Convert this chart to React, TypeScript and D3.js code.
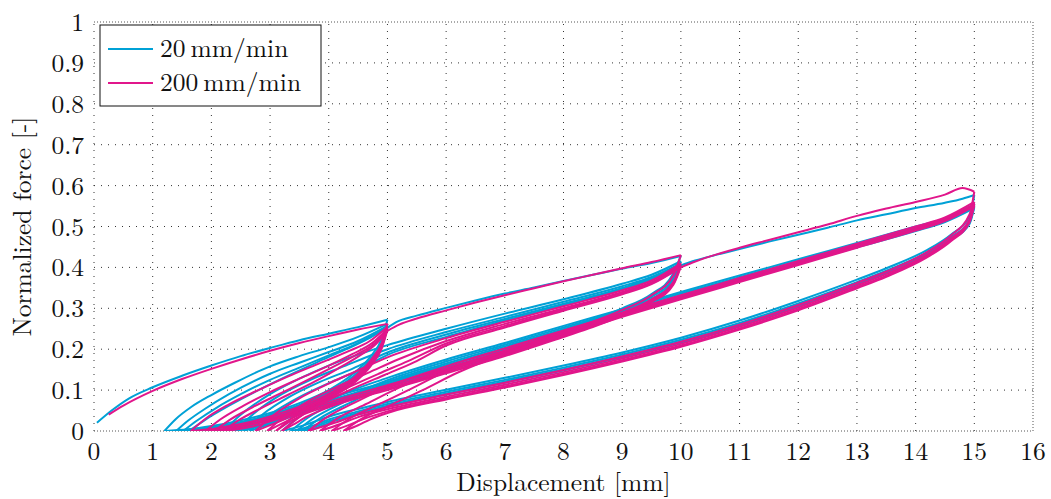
import * as d3 from "d3";

type Pt = [number, number];

const xTicks = [0, 1, 2, 3, 4, 5, 6, 7, 8, 9, 10, 11, 12, 13, 14, 15, 16];
const yTicks = [0, 0.1, 0.2, 0.3, 0.4, 0.5, 0.6, 0.7, 0.8, 0.9, 1];
const seriesNames = ["20\u2009mm/min", "200\u2009mm/min"];
const seriesColors = ["#00a1d6", "#e1168b"];

// ---- 20 mm/min ----
const blueLoad5: Pt[] = [[0.05, 0.02], [0.3, 0.05], [0.6, 0.08], [1, 0.107], [1.5, 0.135], [2, 0.16], [2.5, 0.183], [3, 0.203], [3.5, 0.222], [4, 0.238], [4.5, 0.254], [5, 0.272]];
const blueUnload5: Pt[][] = [
  [[5, 0.272], [4.9, 0.225], [4.7, 0.18], [4.4, 0.138], [4.0, 0.1], [3.5, 0.068], [3.0, 0.044], [2.5, 0.026], [2.0, 0.012], [1.6, 0.004], [1.2, 0]],
  [[5, 0.262], [4.9, 0.216], [4.7, 0.173], [4.4, 0.132], [4.0, 0.095], [3.5, 0.064], [3.0, 0.04], [2.5, 0.022], [2.0, 0.009], [1.4, 0]],
  [[5, 0.257], [4.9, 0.211], [4.7, 0.168], [4.4, 0.128], [4.0, 0.092], [3.5, 0.06], [3.0, 0.037], [2.5, 0.019], [2.0, 0.007], [1.52, 0]],
  [[5, 0.254], [4.9, 0.208], [4.7, 0.165], [4.4, 0.124], [4.0, 0.088], [3.5, 0.057], [3.0, 0.034], [2.5, 0.016], [2.0, 0.005], [1.62, 0]],
];
const blueReload5: Pt[][] = [
  [[1.2, 0], [1.4, 0.03], [1.65, 0.058], [2, 0.088], [2.4, 0.118], [3, 0.158], [3.5, 0.183], [4, 0.205], [4.5, 0.23], [5, 0.262]],
  [[1.4, 0], [1.6, 0.025], [1.9, 0.055], [2.3, 0.09], [3, 0.14], [3.5, 0.167], [4, 0.193], [4.5, 0.22], [5, 0.257]],
  [[1.52, 0], [1.75, 0.025], [2.1, 0.058], [2.5, 0.09], [3, 0.125], [3.5, 0.155], [4, 0.185], [4.5, 0.215], [5, 0.254]],
  [[1.62, 0], [1.9, 0.028], [2.3, 0.062], [2.8, 0.1], [3.3, 0.135], [3.8, 0.168], [4.3, 0.2], [4.7, 0.228], [5, 0.252]],
];
const blueLoad10: Pt[] = [[5, 0.252], [5.15, 0.266], [5.5, 0.282], [6, 0.301], [6.5, 0.319], [7, 0.336], [7.5, 0.351], [8, 0.367], [8.5, 0.382], [9, 0.397], [9.5, 0.411], [10, 0.428]];
const blueUnload10: Pt[][] = [
  [[10, 0.428], [9.85, 0.38], [9.5, 0.335], [9, 0.3], [8.5, 0.272], [8, 0.248], [7, 0.2], [6, 0.16], [5, 0.12], [4, 0.08], [3.5, 0.055], [3, 0.03], [2.6, 0.01], [2.2, 0]],
  [[10, 0.415], [9.85, 0.37], [9.5, 0.328], [9, 0.295], [8.5, 0.267], [8, 0.243], [7, 0.196], [6, 0.155], [5, 0.115], [4, 0.074], [3.5, 0.05], [3, 0.025], [2.7, 0.008], [2.4, 0]],
  [[10, 0.41], [9.85, 0.365], [9.5, 0.323], [9, 0.29], [8.5, 0.262], [8, 0.239], [7, 0.192], [6, 0.151], [5, 0.11], [4, 0.069], [3.5, 0.045], [3, 0.02], [2.55, 0]],
  [[10, 0.407], [9.85, 0.362], [9.5, 0.32], [9, 0.287], [8.5, 0.259], [8, 0.236], [7, 0.189], [6, 0.148], [5, 0.107], [4, 0.066], [3.5, 0.042], [3, 0.017], [2.65, 0]],
];
const blueReload10: Pt[][] = [
  [[2.2, 0], [2.5, 0.04], [3, 0.09], [3.5, 0.128], [4, 0.16], [5, 0.21], [6, 0.25], [7, 0.287], [8, 0.322], [9, 0.36], [9.5, 0.382], [10, 0.415]],
  [[2.4, 0], [2.7, 0.04], [3.2, 0.09], [3.7, 0.126], [4.2, 0.155], [5, 0.2], [6, 0.242], [7, 0.279], [8, 0.316], [9, 0.354], [9.5, 0.377], [10, 0.41]],
  [[2.55, 0], [2.85, 0.038], [3.35, 0.085], [3.85, 0.12], [4.4, 0.152], [5, 0.192], [6, 0.236], [7, 0.274], [8, 0.311], [9, 0.35], [9.5, 0.374], [10, 0.407]],
  [[2.65, 0], [3, 0.04], [3.5, 0.083], [4, 0.117], [4.5, 0.148], [5, 0.186], [6, 0.23], [7, 0.27], [8, 0.308], [9, 0.347], [9.5, 0.371], [10, 0.405]],
];
const blueLoad15: Pt[] = [[10, 0.405], [10.2, 0.415], [10.5, 0.427], [11, 0.445], [11.5, 0.463], [12, 0.48], [12.5, 0.497], [13, 0.515], [13.5, 0.53], [14, 0.545], [14.5, 0.558], [14.8, 0.568], [15, 0.577]];
const blueUnload15: Pt[][] = [
  [[15, 0.577], [14.92, 0.525], [14.6, 0.48], [14.2, 0.443], [13.5, 0.398], [13, 0.37], [12, 0.318], [11, 0.27], [10, 0.228], [9, 0.192], [8, 0.16], [7, 0.13], [6, 0.101], [5, 0.071], [4.5, 0.054], [4, 0.035], [3.6, 0.015], [3.2, 0]],
  [[15, 0.555], [14.92, 0.515], [14.6, 0.474], [14.2, 0.437], [13.5, 0.392], [13, 0.364], [12, 0.312], [11, 0.264], [10, 0.223], [9, 0.187], [8, 0.155], [7, 0.125], [6, 0.096], [5, 0.066], [4.5, 0.048], [4, 0.028], [3.7, 0.012], [3.35, 0]],
  [[15, 0.55], [14.92, 0.51], [14.6, 0.47], [14.2, 0.433], [13.5, 0.388], [13, 0.36], [12, 0.308], [11, 0.26], [10, 0.219], [9, 0.183], [8, 0.151], [7, 0.121], [6, 0.092], [5, 0.062], [4.5, 0.044], [4, 0.024], [3.75, 0.01], [3.45, 0]],
  [[15, 0.547], [14.92, 0.507], [14.6, 0.467], [14.2, 0.43], [13.5, 0.385], [13, 0.357], [12, 0.305], [11, 0.257], [10, 0.216], [9, 0.18], [8, 0.148], [7, 0.118], [6, 0.089], [5, 0.059], [4.5, 0.04], [4, 0.02], [3.8, 0.008], [3.55, 0]],
];
const blueReload15: Pt[][] = [
  [[3.2, 0], [3.5, 0.035], [4, 0.075], [5, 0.13], [6, 0.175], [7, 0.215], [8, 0.257], [9, 0.298], [10, 0.34], [11, 0.38], [12, 0.42], [13, 0.46], [14, 0.5], [14.5, 0.52], [15, 0.555]],
  [[3.35, 0], [3.65, 0.033], [4.15, 0.072], [5, 0.124], [6, 0.17], [7, 0.211], [8, 0.253], [9, 0.295], [10, 0.336], [11, 0.376], [12, 0.416], [13, 0.456], [14, 0.496], [14.5, 0.517], [15, 0.55]],
  [[3.45, 0], [3.75, 0.032], [4.25, 0.07], [5, 0.119], [6, 0.165], [7, 0.207], [8, 0.249], [9, 0.291], [10, 0.332], [11, 0.372], [12, 0.412], [13, 0.452], [14, 0.492], [14.5, 0.514], [15, 0.547]],
  [[3.55, 0], [3.85, 0.031], [4.35, 0.068], [5, 0.114], [6, 0.161], [7, 0.203], [8, 0.245], [9, 0.287], [10, 0.329], [11, 0.369], [12, 0.409], [13, 0.449], [14, 0.489], [14.5, 0.511], [15, 0.545]],
];

// ---- 200 mm/min ----
const pinkLoad5: Pt[] = [[0.25, 0.04], [0.5, 0.062], [1, 0.098], [1.5, 0.127], [2, 0.152], [2.5, 0.175], [3, 0.196], [3.5, 0.215], [4, 0.232], [4.5, 0.248], [5, 0.262]];
const pinkUnload5: Pt[][] = [
  [[5, 0.262], [4.9, 0.215], [4.72, 0.174], [4.45, 0.133], [4.05, 0.095], [3.6, 0.065], [3.1, 0.04], [2.6, 0.02], [2.1, 0.007], [1.65, 0]],
  [[5, 0.255], [4.9, 0.208], [4.72, 0.168], [4.45, 0.128], [4.05, 0.09], [3.6, 0.06], [3.1, 0.035], [2.6, 0.016], [2.2, 0.005], [1.9, 0]],
  [[5, 0.25], [4.9, 0.204], [4.72, 0.163], [4.45, 0.124], [4.05, 0.086], [3.6, 0.056], [3.1, 0.031], [2.6, 0.013], [2.3, 0.004], [2.05, 0]],
  [[5, 0.247], [4.9, 0.201], [4.72, 0.16], [4.45, 0.12], [4.05, 0.083], [3.6, 0.053], [3.1, 0.028], [2.7, 0.011], [2.4, 0.003], [2.2, 0]],
];
const pinkReload5: Pt[][] = [
  [[1.65, 0], [1.9, 0.03], [2.3, 0.065], [2.8, 0.1], [3.3, 0.133], [3.8, 0.163], [4.3, 0.193], [4.7, 0.22], [5, 0.255]],
  [[1.9, 0], [2.15, 0.028], [2.55, 0.062], [3.0, 0.095], [3.5, 0.128], [4.0, 0.16], [4.4, 0.188], [4.75, 0.216], [5, 0.25]],
  [[2.05, 0], [2.3, 0.026], [2.7, 0.058], [3.15, 0.09], [3.6, 0.122], [4.05, 0.155], [4.45, 0.185], [4.78, 0.214], [5, 0.247]],
  [[2.2, 0], [2.45, 0.025], [2.85, 0.056], [3.3, 0.088], [3.75, 0.12], [4.15, 0.152], [4.5, 0.182], [4.8, 0.212], [5, 0.245]],
];
const pinkLoad10: Pt[] = [[5, 0.245], [5.2, 0.26], [5.5, 0.275], [6, 0.295], [6.5, 0.314], [7, 0.332], [7.5, 0.349], [8, 0.366], [8.5, 0.382], [9, 0.398], [9.5, 0.413], [10, 0.43]];
const pinkUnload10: Pt[][] = [
  [[10, 0.43], [9.87, 0.38], [9.5, 0.332], [9, 0.296], [8.5, 0.267], [8, 0.242], [7, 0.195], [6, 0.153], [5, 0.112], [4, 0.07], [3.5, 0.045], [3.1, 0.02], [2.75, 0]],
  [[10, 0.41], [9.87, 0.364], [9.5, 0.322], [9, 0.289], [8.5, 0.261], [8, 0.237], [7, 0.19], [6, 0.148], [5, 0.107], [4, 0.065], [3.5, 0.04], [3.2, 0.018], [2.95, 0]],
  [[10, 0.405], [9.87, 0.36], [9.5, 0.318], [9, 0.285], [8.5, 0.257], [8, 0.233], [7, 0.186], [6, 0.144], [5, 0.103], [4, 0.061], [3.5, 0.036], [3.3, 0.02], [3.1, 0]],
  [[10, 0.402], [9.87, 0.357], [9.5, 0.315], [9, 0.282], [8.5, 0.254], [8, 0.23], [7, 0.183], [6, 0.141], [5, 0.1], [4, 0.058], [3.6, 0.033], [3.4, 0.016], [3.2, 0]],
];
const pinkReload10: Pt[][] = [
  [[2.75, 0], [3.05, 0.038], [3.5, 0.08], [4, 0.116], [4.5, 0.148], [5, 0.18], [6, 0.227], [7, 0.267], [8, 0.305], [9, 0.344], [9.5, 0.368], [10, 0.41]],
  [[2.95, 0], [3.25, 0.036], [3.7, 0.077], [4.2, 0.112], [4.7, 0.144], [5.2, 0.176], [6, 0.22], [7, 0.262], [8, 0.3], [9, 0.34], [9.5, 0.364], [10, 0.405]],
  [[3.1, 0], [3.4, 0.035], [3.85, 0.074], [4.35, 0.108], [4.85, 0.14], [5.35, 0.171], [6, 0.214], [7, 0.257], [8, 0.297], [9, 0.337], [9.5, 0.361], [10, 0.402]],
  [[3.2, 0], [3.5, 0.034], [3.95, 0.072], [4.45, 0.106], [4.95, 0.137], [5.45, 0.168], [6, 0.209], [7, 0.253], [8, 0.294], [9, 0.334], [9.5, 0.359], [10, 0.4]],
];
const pinkLoad15: Pt[] = [[10, 0.4], [10.2, 0.412], [10.5, 0.427], [11, 0.448], [11.5, 0.467], [12, 0.486], [12.5, 0.505], [13, 0.526], [13.5, 0.544], [14, 0.56], [14.5, 0.578], [14.8, 0.594], [15, 0.585]];
const pinkUnload15: Pt[][] = [
  [[15, 0.585], [14.92, 0.53], [14.6, 0.478], [14.2, 0.438], [13.5, 0.39], [13, 0.362], [12, 0.308], [11, 0.26], [10, 0.218], [9, 0.182], [8, 0.149], [7, 0.118], [6, 0.089], [5, 0.058], [4.5, 0.04], [4.1, 0.02], [3.65, 0]],
  [[15, 0.56], [14.92, 0.518], [14.6, 0.471], [14.2, 0.432], [13.5, 0.384], [13, 0.356], [12, 0.302], [11, 0.255], [10, 0.213], [9, 0.177], [8, 0.144], [7, 0.113], [6, 0.084], [5, 0.053], [4.5, 0.034], [4.2, 0.017], [3.85, 0]],
  [[15, 0.555], [14.92, 0.514], [14.6, 0.467], [14.2, 0.428], [13.5, 0.38], [13, 0.352], [12, 0.298], [11, 0.251], [10, 0.209], [9, 0.173], [8, 0.14], [7, 0.109], [6, 0.08], [5, 0.048], [4.6, 0.03], [4.35, 0.015], [4.05, 0]],
  [[15, 0.552], [14.92, 0.511], [14.6, 0.464], [14.2, 0.425], [13.5, 0.377], [13, 0.349], [12, 0.295], [11, 0.248], [10, 0.206], [9, 0.17], [8, 0.137], [7, 0.106], [6, 0.077], [5, 0.044], [4.7, 0.028], [4.5, 0.014], [4.25, 0]],
];
const pinkReload15: Pt[][] = [
  [[3.65, 0], [3.95, 0.032], [4.45, 0.07], [5, 0.108], [6, 0.158], [7, 0.202], [8, 0.246], [9, 0.289], [10, 0.332], [11, 0.374], [12, 0.416], [13, 0.458], [14, 0.5], [14.5, 0.522], [15, 0.56]],
  [[3.85, 0], [4.15, 0.031], [4.65, 0.067], [5.2, 0.106], [6, 0.152], [7, 0.197], [8, 0.242], [9, 0.285], [10, 0.328], [11, 0.37], [12, 0.412], [13, 0.454], [14, 0.496], [14.5, 0.519], [15, 0.555]],
  [[4.05, 0], [4.35, 0.03], [4.85, 0.065], [5.4, 0.103], [6, 0.146], [7, 0.193], [8, 0.238], [9, 0.282], [10, 0.325], [11, 0.367], [12, 0.409], [13, 0.451], [14, 0.493], [14.5, 0.516], [15, 0.552]],
  [[4.25, 0], [4.55, 0.029], [5.05, 0.063], [5.6, 0.1], [6.2, 0.143], [7, 0.189], [8, 0.234], [9, 0.279], [10, 0.322], [11, 0.364], [12, 0.406], [13, 0.448], [14, 0.49], [14.5, 0.513], [15, 0.55]],
];

// load -> (unload, reload) x N for each amplitude, in test order
const seriesBranches = (
  loads: Pt[][],
  unloads: Pt[][][],
  reloads: Pt[][][]
): Pt[][] => {
  const out: Pt[][] = [];
  loads.forEach((load, a) => {
    out.push(load);
    unloads[a].forEach((u, i) => {
      out.push(u);
      out.push(reloads[a][i]);
    });
  });
  return out;
};

const series: Pt[][][] = [
  seriesBranches([blueLoad5, blueLoad10, blueLoad15], [blueUnload5, blueUnload10, blueUnload15], [blueReload5, blueReload10, blueReload15]),
  seriesBranches([pinkLoad5, pinkLoad10, pinkLoad15], [pinkUnload5, pinkUnload10, pinkUnload15], [pinkReload5, pinkReload10, pinkReload15]),
];

const W = 1051;
const H = 499;
const margin = { top: 22, right: 18, bottom: 68, left: 94 };

export default function App() {
  const x = d3.scaleLinear().domain([0, 16]).range([margin.left, W - margin.right]);
  const y = d3.scaleLinear().domain([0, 1]).range([H - margin.bottom, margin.top]);

  const line = d3
    .line<Pt>()
    .x((d) => x(d[0]))
    .y((d) => y(d[1]))
    .curve(d3.curveMonotoneX);

  const branchPath = (pts: Pt[]) => line([...pts].sort((a, b) => a[0] - b[0])) ?? "";

  const x0 = x(0), x1 = x(16), y0 = y(0), y1 = y(1);
  const textStyle = { fontFamily: "Latin Modern Roman", fontSize: 25.5 };

  return (
    <svg width={W} height={H} style={{ position: "absolute", left: 0, top: 0, background: "#fff" }}>
      <defs>
        <clipPath id="plot">
          <rect x={x0} y={y1 - 2} width={x1 - x0} height={y0 - y1 + 2} />
        </clipPath>
      </defs>

      {/* grid */}
      <g stroke="#333" strokeWidth={1} strokeDasharray="1,6">
        {xTicks.slice(1, -1).map((t) => (
          <line key={"gx" + t} x1={x(t)} x2={x(t)} y1={y0} y2={y1} />
        ))}
        {yTicks.slice(1, -1).map((t) => (
          <line key={"gy" + t} x1={x0} x2={x1} y1={y(t)} y2={y(t)} />
        ))}
        <line x1={x0} x2={x0} y1={y0} y2={y1} />
      </g>
      <g stroke="#555" strokeWidth={1} strokeDasharray="1,2">
        <line x1={x0} x2={x1} y1={y0} y2={y0} />
        <line x1={x0} x2={x1} y1={y1} y2={y1} />
        <line x1={x1} x2={x1} y1={y0} y2={y1} />
      </g>

      {/* curves */}
      <g clipPath="url(#plot)" fill="none" strokeWidth={2} strokeLinejoin="round">
        {series.map((branches, s) =>
          branches.map((b, i) => (
            <path key={s + "-" + i} d={branchPath(b)} stroke={seriesColors[s]} />
          ))
        )}
      </g>

      {/* tick labels */}
      <g style={textStyle} fill="#111">
        {xTicks.map((t) => (
          <text key={"tx" + t} x={x(t)} y={y0 + 29} textAnchor="middle">
            {t}
          </text>
        ))}
        {yTicks.map((t) => (
          <text key={"ty" + t} x={x0 - 10} y={y(t) + 9} textAnchor="end">
            {d3.format("~g")(t)}
          </text>
        ))}
      </g>

      {/* axis titles */}
      <text x={(x0 + x1) / 2} y={491} textAnchor="middle" style={textStyle} fill="#111">
        Displacement [mm]
      </text>
      <text
        transform={`translate(31,${(y0 + y1) / 2}) rotate(-90)`}
        textAnchor="middle"
        style={textStyle}
        fill="#111"
      >
        Normalized force [-]
      </text>

      {/* legend */}
      <g>
        <rect x={100} y={25} width={221} height={81} fill="#fff" stroke="#111" strokeWidth={1} />
        {seriesNames.map((name, i) => (
          <g key={name}>
            <line x1={108} x2={153} y1={49 + i * 34} y2={49 + i * 34} stroke={seriesColors[i]} strokeWidth={2} />
            <text x={160} y={57 + i * 34} style={textStyle} fill="#111">
              {name}
            </text>
          </g>
        ))}
      </g>
    </svg>
  );
}
